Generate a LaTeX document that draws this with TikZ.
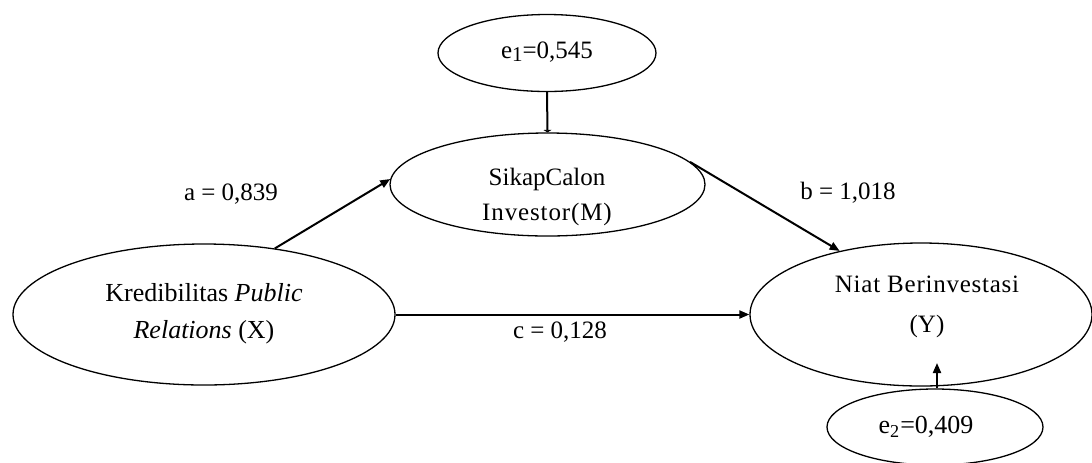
\documentclass[tikz,border=0pt]{standalone}
\usepackage{fontspec}
\setmainfont{Liberation Serif}
\usetikzlibrary{shapes.geometric,arrows.meta}
\begin{document}
\begin{tikzpicture}[x=0.5pt,y=-0.5pt,
  oval/.style={draw,ellipse,inner sep=0pt,line width=0.65pt},
  lbl/.style={font=\fontsize{12.5}{14}\selectfont,inner sep=0pt,align=center},
  arr/.style={line width=1pt,-{Triangle[length=5pt,width=4pt]}},
  tinyarr/.style={line width=1pt,-{Triangle[length=1.2pt,width=4pt]}}]
\useasboundingbox (0,0) rectangle (1092,462);
\node[oval,minimum width=109pt,minimum height=38.5pt] (e1) at (547,53) {};
\node[oval,minimum width=157.5pt,minimum height=51.5pt] (M) at (547.5,184.5) {};
\node[oval,minimum width=191pt,minimum height=70.5pt] (X) at (204,314.5) {};
\node[oval,minimum width=171pt,minimum height=71.5pt] (Y) at (921,314.5) {};
\node[oval,minimum width=108pt,minimum height=38pt] (e2) at (935,427) {};
% texts
\node[lbl] (te1) at (547,52) {e\raisebox{-0.25ex}{\fontsize{10.5}{10}\selectfont 1}=0,545};
\node[lbl,font=\fontsize{12.5}{17.5}\selectfont] (tM) at (547,197) {SikapCalon\\{\addfontfeature{LetterSpace=3.5}Investor(M)}};
\node[lbl,font=\fontsize{13}{18.5}\selectfont] (tX) at (204,313.5) {Kredibilitas \textit{Public}\\\textit{Relations} (X)};
\node[lbl,font=\fontsize{12.5}{20}\selectfont] (tY) at (927,307) {{\addfontfeature{LetterSpace=3}Niat Berinvestasi}\\(Y)};
\node[lbl,font=\fontsize{13}{14}\selectfont] (te2) at (926,427) {e\textsubscript{2}=0,409};
\node[lbl] (la) at (231,194) {a = 0,839};
\node[lbl] (lb) at (848,193) {b = 1,018};
\node[lbl] (lc) at (560,332) {c = 0,128};
% connectors
\draw[arr] (X.43) -- (M.178);
\draw[arr] (M.9) -- (Y.142);
\draw[arr] (X.east) -- (Y.west);
\draw[tinyarr] (e1.south) -- (M.north);
\coordinate (yin) at (937,363);
\draw[arr] (e2.north -| yin) -- (yin);
\end{tikzpicture}
\end{document}
